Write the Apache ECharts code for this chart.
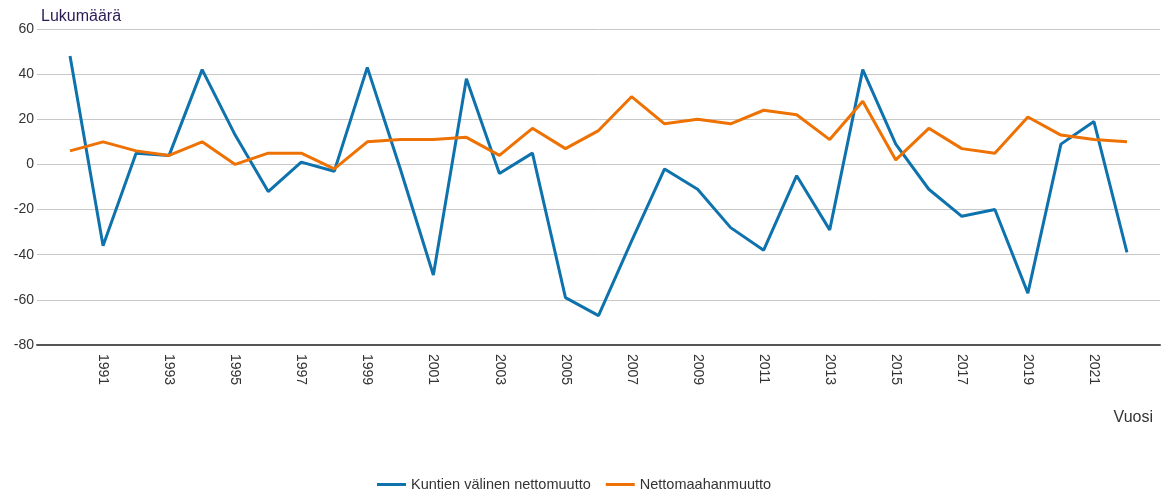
<!DOCTYPE html>
<html>
<head>
<meta charset="utf-8">
<script src="https://cdn.jsdelivr.net/npm/echarts@6/dist/echarts.min.js"></script>
<style>
  html, body { margin: 0; padding: 0; background: #fff; }
  #chart { width: 1165px; height: 497px; }
</style>
</head>
<body>
<div id="chart"></div>
<script>
// vuodet
const years = [1990, 1991, 1992, 1993, 1994, 1995, 1996, 1997, 1998, 1999, 2000,
  2001, 2002, 2003, 2004, 2005, 2006, 2007, 2008, 2009, 2010, 2011,
  2012, 2013, 2014, 2015, 2016, 2017, 2018, 2019, 2020, 2021, 2022];
// Kuntien välinen nettomuutto
const kuntienValinen = [48, -36, 5, 4, 42, 13, -12, 1, -3, 43, -2,
  -49, 38, -4, 5, -59, -67, -34, -2, -11, -28, -38,
  -5, -29, 42, 9, -11, -23, -20, -57, 9, 19, -39];
// Nettomaahanmuutto
const nettomaahanmuutto = [6, 10, 6, 4, 10, 0, 5, 5, -2, 10, 11,
  11, 12, 4, 16, 7, 15, 30, 18, 20, 18, 24,
  22, 11, 28, 2, 16, 7, 5, 21, 13, 11, 10];
const yTicks = [-80, -60, -40, -20, 0, 20, 40, 60];

const chart = echarts.init(document.getElementById('chart'));
const font = 'Liberation Sans, Arial, sans-serif';

const option = {
  animation: false,
  textStyle: { fontFamily: font },
  title: [
    {
      text: 'Lukumäärä',
      left: 36, top: 4,
      textStyle: { fontSize: 16, fontWeight: 'normal', color: '#2b1a55', fontFamily: font }
    },
    {
      text: 'Vuosi',
      right: 7, top: 405,
      textStyle: { fontSize: 16, fontWeight: 'normal', color: '#333', fontFamily: font }
    }
  ],
  legend: {
    bottom: 0,
    left: 372,
    icon: 'rect',
    itemWidth: 29,
    itemHeight: 3,
    itemGap: 15,
    textStyle: { fontSize: 14.5, color: '#333', fontFamily: font },
    data: ['Kuntien välinen nettomuutto', 'Nettomaahanmuutto']
  },
  grid: { left: 37, right: 5, top: 29, bottom: 152, containLabel: false },
  xAxis: {
    type: 'value',
    min: 1989,
    max: 2023,
    interval: 1,
    splitLine: { show: false },
    axisTick: { show: false },
    axisLine: { onZero: false, lineStyle: { color: '#555', width: 2 } },
    axisLabel: {
      rotate: -90,
      margin: 9,
      fontSize: 14,
      color: '#333',
      formatter: v => (v % 2 === 1 && v >= 1991 && v <= 2021) ? String(v) : ''
    }
  },
  yAxis: {
    type: 'value',
    min: yTicks[0],
    max: yTicks[yTicks.length - 1],
    interval: 20,
    axisLine: { show: false },
    axisTick: { show: false },
    axisLabel: { fontSize: 14, color: '#333', margin: 3 },
    splitLine: { lineStyle: { color: '#c8c8c8', width: 1 } }
  },
  series: [
    {
      name: 'Kuntien välinen nettomuutto',
      type: 'line',
      data: years.map((y, i) => [y, kuntienValinen[i]]),
      showSymbol: false,
      color: '#0e72ad',
      lineStyle: { width: 3 }
    },
    {
      name: 'Nettomaahanmuutto',
      type: 'line',
      data: years.map((y, i) => [y, nettomaahanmuutto[i]]),
      showSymbol: false,
      color: '#ee7203',
      lineStyle: { width: 3 }
    }
  ]
};
chart.setOption(option);
</script>
</body>
</html>
